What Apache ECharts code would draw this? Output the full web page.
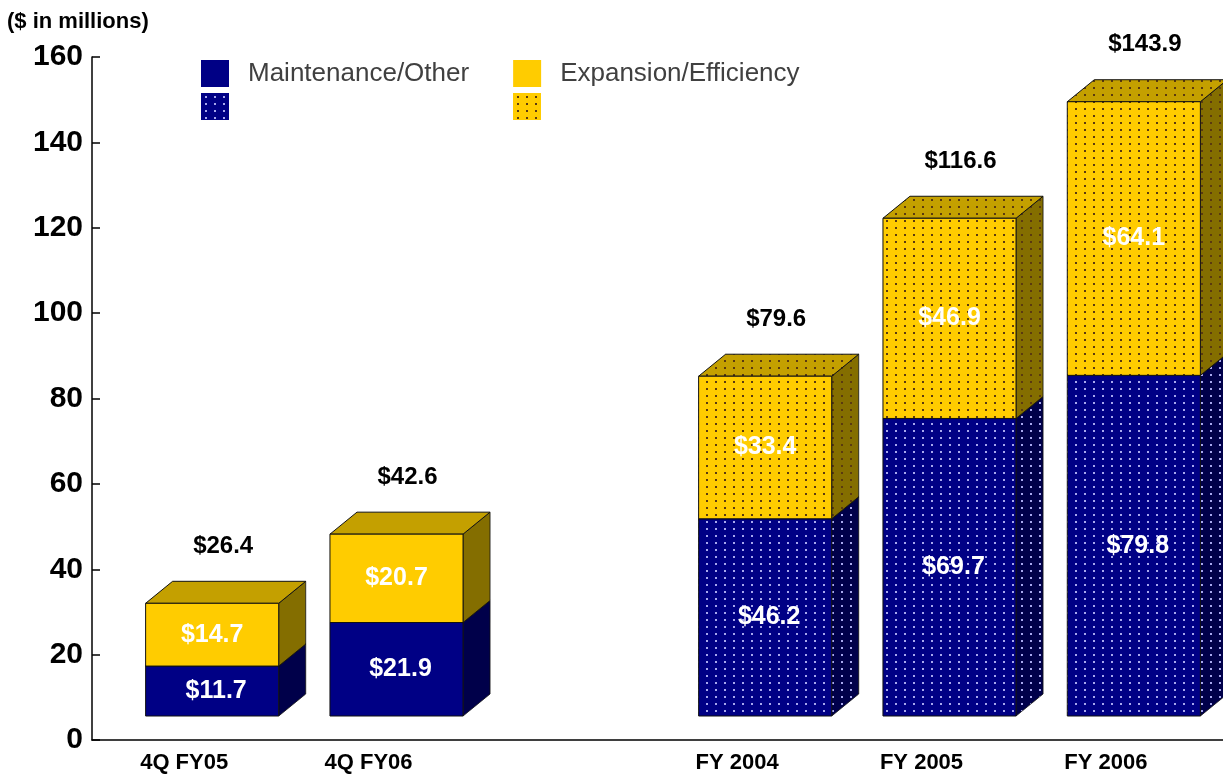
<!DOCTYPE html>
<html>
<head>
<meta charset="utf-8">
<title>Capital Expenditures</title>
<script src="https://cdn.jsdelivr.net/npm/echarts@6/dist/echarts.min.js"></script>
<style>
  html, body { margin: 0; padding: 0; background: #ffffff; }
  #chart { width: 1223px; height: 778px; }
</style>
</head>
<body>
<div id="chart"></div>
<script>
// Categories and values ($ in millions)
const categories = ['4Q FY05', '4Q FY06', '', 'FY 2004', 'FY 2005', 'FY 2006'];
const maintenance = [11.7, 21.9, null, 46.2, 69.7, 79.8];
const expansion = [14.7, 20.7, null, 33.4, 46.9, 64.1];
// full fiscal years are drawn with a dotted fill
const fiscalYear = [false, false, false, true, true, true];
const yTicks = { min: 0, max: 160, step: 20 };

const NAMES = {
  maint: 'Maintenance/Other',
  exp: 'Expansion/Efficiency',
  maintFY: 'Maintenance/Other (fiscal year)',
  expFY: 'Expansion/Efficiency (fiscal year)'
};

const FONT = '"Liberation Sans", Arial, sans-serif';

// Small repeating dot texture
function dotted(bg, dot) {
  const c = document.createElement('canvas');
  c.width = 9; c.height = 7;
  const g = c.getContext('2d');
  g.fillStyle = bg; g.fillRect(0, 0, 9, 7);
  g.fillStyle = dot; g.fillRect(4, 3, 2, 2);
  return { image: c, repeat: 'repeat' };
}

const BLUE = { front: '#000085', top: '#00006a', side: '#00004a', dot: '#a8a8ee' };
const GOLD = { front: '#ffcc00', top: '#c4a000', side: '#846e00', dot: '#5a3a10' };

function faces(pal, dots) {
  if (!dots) return { front: pal.front, top: pal.top, side: pal.side };
  return {
    front: dotted(pal.front, pal.dot),
    top: dotted(pal.top, pal.dot),
    side: dotted(pal.side, pal.dot)
  };
}

// 3D box geometry (pixels)
const OX = 28, OY = -24, DX = 27, DY = -22;

function fmt(v) { return '$' + v.toFixed(1); }

function makeRender(pal, dots, isTop, labelShift) {
  const f = faces(pal, dots);
  return function (params, api) {
    const cat = api.value(0), base = api.value(1), val = api.value(2);
    const p0 = api.coord([cat, base]);
    const p1 = api.coord([cat, base + val]);
    const band = api.size([1, 0])[0];
    const W = band * 0.722;
    const cx = p0[0] + OX;
    const x0 = cx - W / 2, x1 = cx + W / 2;
    const yb = p0[1] + OY, yt = p1[1] + OY;
    const stroke = '#111111';
    const children = [
      {
        type: 'polygon',
        shape: { points: [[x1, yb], [x1, yt], [x1 + DX, yt + DY], [x1 + DX, yb + DY]] },
        style: { fill: f.side, stroke: stroke, lineWidth: 0.8 }
      },
      {
        type: 'polygon',
        shape: { points: [[x0, yt], [x0 + DX, yt + DY], [x1 + DX, yt + DY], [x1, yt]] },
        style: { fill: f.top, stroke: stroke, lineWidth: 1 }
      },
      {
        type: 'rect',
        shape: { x: x0, y: yt, width: W, height: yb - yt },
        style: { fill: f.front, stroke: stroke, lineWidth: 1 }
      },
      {
        type: 'text',
        style: {
          text: fmt(val), x: cx + labelShift, y: (yt + yb) / 2,
          align: 'center', verticalAlign: 'middle', fill: '#ffffff',
          font: 'bold 25px ' + FONT
        }
      }
    ];
    if (isTop) {
      children.push({
        type: 'text',
        style: {
          text: fmt(base + val), x: cx + 11, y: yt - 57,
          align: 'center', verticalAlign: 'middle', fill: '#000000',
          font: 'bold 24px ' + FONT
        }
      });
    }
    return { type: 'group', children: children };
  };
}

function seriesData(which, fy) {
  const out = [];
  categories.forEach((c, i) => {
    if (maintenance[i] == null || fiscalYear[i] !== fy) return;
    if (which === 'maint') out.push([i, 0, maintenance[i]]);
    else out.push([i, maintenance[i], expansion[i]]);
  });
  return out;
}

function makeSeries(name, pal, dots, which) {
  return {
    type: 'custom',
    name: name,
    xAxisIndex: 0, yAxisIndex: 0,
    itemStyle: { color: dots ? dotted(pal.front, pal.dot) : pal.front },
    renderItem: makeRender(pal, dots, which === 'exp', which === 'maint' ? 4 : 0),
    encode: { x: 0, y: [1, 2] },
    data: seriesData(which, dots),
    clip: false
  };
}

const chart = echarts.init(document.getElementById('chart'), null, { renderer: 'canvas' });

chart.setOption({
  animation: false,
  backgroundColor: '#ffffff',
  title: {
    text: '($ in millions)', left: 2, top: 6,
    textStyle: { fontSize: 22, fontWeight: 'bold', color: '#000', fontFamily: FONT }
  },
  legend: [
    {
      data: [{ name: NAMES.maint, icon: 'rect' }, { name: NAMES.exp, icon: 'rect' }],
      left: 196, top: 55, itemWidth: 28, itemHeight: 27, itemGap: 44,
      textStyle: { fontSize: 26, color: '#404040', fontFamily: FONT, padding: [0, 0, 0, 14] },
      selectedMode: false
    },
    {
      data: [{ name: NAMES.maintFY, icon: 'rect' }, { name: NAMES.expFY, icon: 'rect' }],
      left: 196, top: 88, itemWidth: 28, itemHeight: 27, itemGap: 284,
      formatter: () => '',
      textStyle: { fontSize: 1, padding: 0 },
      selectedMode: false
    }
  ],
  grid: [
    { left: 92, right: 25, top: 57, bottom: 38 },
    { left: 92, right: 0, top: 57, bottom: 38 }
  ],
  xAxis: [
    {
      type: 'category', gridIndex: 0, data: categories,
      axisLine: { show: false }, axisTick: { show: false },
      axisLabel: {
        margin: 12, color: '#000', fontSize: 22, fontWeight: 'bold',
        fontFamily: FONT, interval: 0
      },
      splitLine: { show: false }
    },
    {
      type: 'value', gridIndex: 1, min: 0, max: 1,
      axisLine: { show: true, lineStyle: { color: '#000', width: 1.5 } },
      axisTick: { show: false }, axisLabel: { show: false }, splitLine: { show: false }
    }
  ],
  yAxis: [
    {
      type: 'value', gridIndex: 0, min: yTicks.min, max: yTicks.max, interval: yTicks.step,
      axisLine: { show: true, lineStyle: { color: '#000', width: 1.5 } },
      axisTick: { show: true, inside: true, length: 8, lineStyle: { color: '#000', width: 1.5 } },
      axisLabel: {
        margin: 9, color: '#000', fontSize: 30, fontWeight: 'bold',
        fontFamily: FONT
      },
      splitLine: { show: false }
    },
    {
      type: 'value', gridIndex: 1, min: 0, max: 1, show: false
    }
  ],
  series: [
    makeSeries(NAMES.maint, BLUE, false, 'maint'),
    makeSeries(NAMES.exp, GOLD, false, 'exp'),
    makeSeries(NAMES.maintFY, BLUE, true, 'maint'),
    makeSeries(NAMES.expFY, GOLD, true, 'exp')
  ]
});
</script>
</body>
</html>
